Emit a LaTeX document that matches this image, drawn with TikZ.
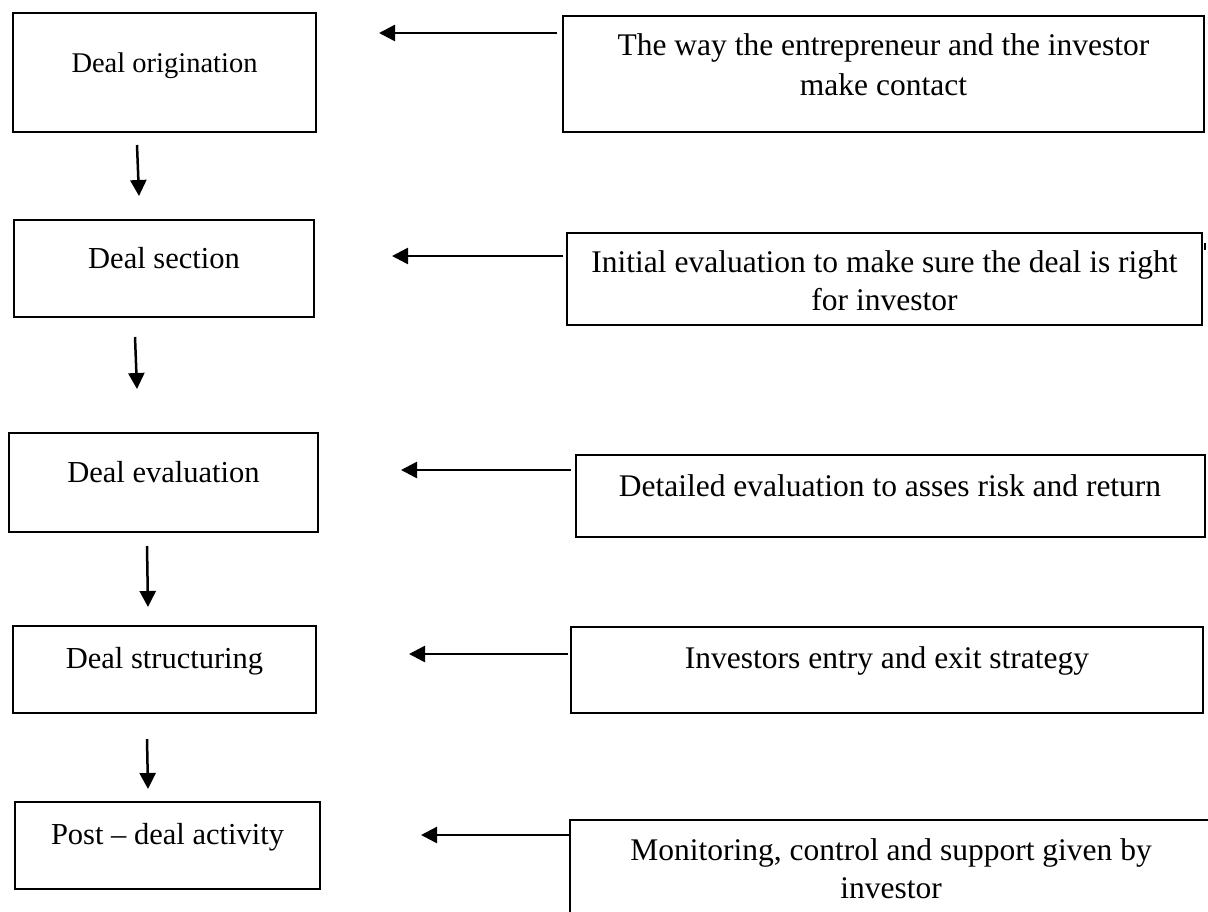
\documentclass[tikz,border=0pt]{standalone}
\usepackage{fontspec}
\setmainfont{Liberation Serif}
\usetikzlibrary{arrows.meta}

% box from its corners: name, left, top, right, bottom
\newcommand\cornerbox[5]{%
  \node[framebox, minimum width={#4-#2}, minimum height={#5-#3}]
    (#1) at ({(#2+#4)/2},{(#3+#5)/2}) {};}

\begin{document}
\begin{tikzpicture}[x=1pt,y=-1pt,
  framebox/.style={draw, rectangle, line width=2.5pt, inner sep=0pt, outer sep=0pt},
  stagetext/.style={anchor=base, inner sep=0pt, font=\fontsize{30.5}{36}\selectfont},
  notetext/.style={anchor=base, inner sep=0pt, font=\fontsize{31.5}{40}\selectfont},
  flow/.style={line width=2.5pt, -{Triangle[length=16pt,width=16pt]}},
]
\useasboundingbox (0,0) rectangle (1208,911);

% stages of the deal
\cornerbox{s1}{13}{13}{316}{132}
\cornerbox{s2}{14}{220}{314}{317}
\cornerbox{s3}{9}{433}{318}{532}
\cornerbox{s4}{13}{626}{316}{713}
\cornerbox{s5}{15}{802}{320}{889}

\node[stagetext, font=\fontsize{28.5}{34}\selectfont] (s1t) at (164.5,72) {Deal origination};
\node[stagetext] (s2t) at (164,268) {Deal section};
\node[stagetext] (s3t) at (163.5,482) {Deal evaluation};
\node[stagetext] (s4t) at (164.5,668) {Deal structuring};
\node[stagetext] (s5t) at (167.5,844) {Post -- deal activity};

% descriptions
\cornerbox{n1}{563}{16}{1204}{132}
\cornerbox{n2}{567}{233}{1202}{325}
\cornerbox{n3}{576}{455}{1205}{537}
\cornerbox{n4}{571}{627}{1203}{713}
\cornerbox{n5}{570}{820}{1212}{940}

\node[notetext] (n1a) at (883.5,55) {The way the entrepreneur and the investor};
\node[notetext] (n1b) at (883.5,95) {make contact};
\node[notetext] (n2a) at (884.5,272) {Initial evaluation to make sure the deal is right};
\node[notetext] (n2b) at (884.5,310) {for investor};
\node[notetext] (n3a) at (890,496) {Detailed evaluation to asses risk and return};
\node[notetext] (n4a) at (887,668) {Investors entry and exit strategy};
\node[notetext] (n5a) at (891,860) {Monitoring, control and support given by};
\node[notetext] (n5b) at (891,898) {investor};

% small stray mark beside the second description
\draw[line width=1.5pt] (1205,243) -- (1205,250);

% arrow ends
\coordinate (d1a) at (137,145); \coordinate (d1b) at (139,196);
\coordinate (d2a) at (135,337); \coordinate (d2b) at (137,389);
\coordinate (d3a) at (147,546); \coordinate (d3b) at (148,607);
\coordinate (d4a) at (147,739); \coordinate (d4b) at (148,789);

\coordinate (h1) at (379,33);
\coordinate (h2) at (392,256);
\coordinate (h3) at (401,470);
\coordinate (h4) at (409,654);
\coordinate (h5) at (421,835);

% flow between stages
\draw[flow] (d1a) -- (d1b);
\draw[flow] (d2a) -- (d2b);
\draw[flow] (d3a) -- (d3b);
\draw[flow] (d4a) -- (d4b);

% descriptions pointing to their stages
\draw[flow, shorten <=6pt] (n1.west |- h1) -- (h1);
\draw[flow, shorten <=4pt] (n2.west |- h2) -- (h2);
\draw[flow, shorten <=5pt] (n3.west |- h3) -- (h3);
\draw[flow, shorten <=3pt] (n4.west |- h4) -- (h4);
\draw[flow] (n5.west |- h5) -- (h5);
\end{tikzpicture}
\end{document}
